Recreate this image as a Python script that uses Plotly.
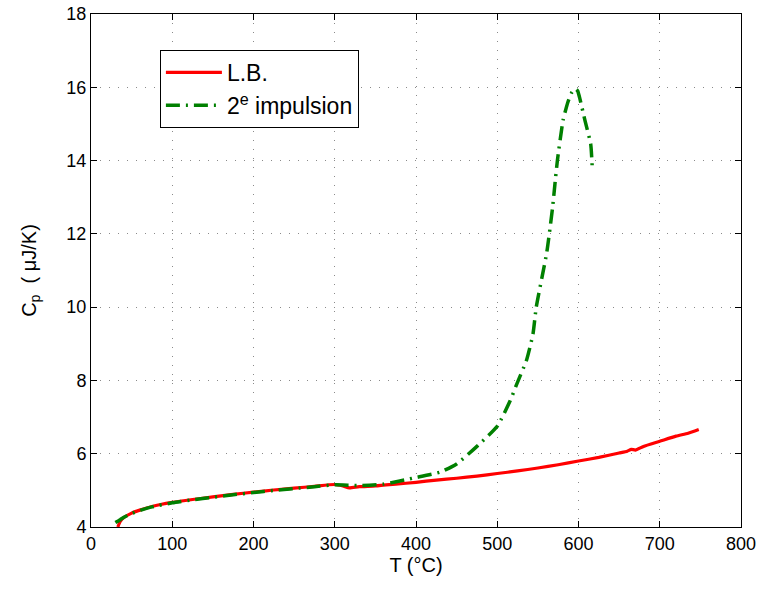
import plotly.graph_objects as go

# Red curve "L.B."
lb_T = [33, 36, 40, 50, 60, 75, 100, 125, 150, 175, 200, 225, 250, 275, 300,
        310, 318, 330, 350, 375, 400, 425, 450, 475, 500, 525, 550, 575, 600,
        625, 650, 660, 665, 670, 680, 700, 720, 735, 748]
lb_Cp = [4.0, 4.15, 4.25, 4.38, 4.46, 4.56, 4.67, 4.75, 4.82, 4.89, 4.95, 5.01,
         5.06, 5.11, 5.16, 5.12, 5.07, 5.10, 5.12, 5.17, 5.22, 5.28, 5.33, 5.39,
         5.46, 5.53, 5.61, 5.70, 5.80, 5.90, 6.02, 6.07, 6.12, 6.10, 6.20, 6.34,
         6.48, 6.56, 6.66]

# Green curve "2e impulsion"
imp_T = [30, 36, 40, 50, 60, 75, 100, 125, 150, 175, 200, 225, 250, 275, 300,
         330, 360, 400, 430, 450, 475, 500, 516, 524, 536, 544, 548, 561, 568,
         571, 574, 581, 587, 592, 596, 599, 602, 608, 615, 617]
imp_Cp = [4.12, 4.2, 4.26, 4.37, 4.45, 4.55, 4.66, 4.74, 4.81, 4.88, 4.94, 5.0,
          5.05, 5.1, 5.15, 5.13, 5.17, 5.35, 5.5, 5.72, 6.2, 6.75, 7.45, 7.9,
          8.55, 9.27, 10.0, 11.5, 12.7, 13.36, 14.0, 15.1, 15.6, 15.87, 15.96,
          15.9, 15.66, 15.09, 14.45, 13.77]

x_ticks = [0, 100, 200, 300, 400, 500, 600, 700, 800]
y_ticks = [4, 6, 8, 10, 12, 14, 16, 18]

fig = go.Figure()
fig.add_trace(go.Scatter(x=lb_T, y=lb_Cp, mode="lines", name="L.B.",
                         line=dict(color="#ff0000", width=3.2, shape="spline", smoothing=0.5)))
fig.add_trace(go.Scatter(x=imp_T, y=imp_Cp, mode="lines",
                         name="2<sup>e</sup> impulsion",
                         line=dict(color="#008000", width=3.5, shape="spline", smoothing=0.5,
                                   dash="14px,6px,2px,6px")))

axis_common = dict(showline=True, linecolor="black", linewidth=1, mirror="ticks",
                   ticks="inside", ticklen=6, tickcolor="black",
                   showgrid=True, gridcolor="#8a8a8a", griddash="1px,8px", gridwidth=1.2,
                   zeroline=False, automargin=False,
                   tickfont=dict(size=18, color="black"))

fig.update_xaxes(range=[0, 800], tickvals=x_ticks,
                 title=dict(text="T (°C)", font=dict(size=20, color="black"), standoff=4),
                 **axis_common)
fig.update_yaxes(range=[4, 18], tickvals=y_ticks,
                 title=dict(text="C<sub>p</sub>  ( μJ/K)", font=dict(size=20, color="black"), standoff=24),
                 **axis_common)

fig.update_layout(
    width=764, height=590,
    margin=dict(l=91, r=23, t=14, b=63),
    paper_bgcolor="white", plot_bgcolor="white",
    font=dict(family="Liberation Sans, Arial, sans-serif", color="black"),
    legend=dict(x=0.106, y=0.93, xanchor="left", yanchor="top",
                bgcolor="white", bordercolor="black", borderwidth=1,
                itemwidth=56, tracegroupgap=0,
                font=dict(size=23, color="black")),
)

fig.write_html("out.html")
